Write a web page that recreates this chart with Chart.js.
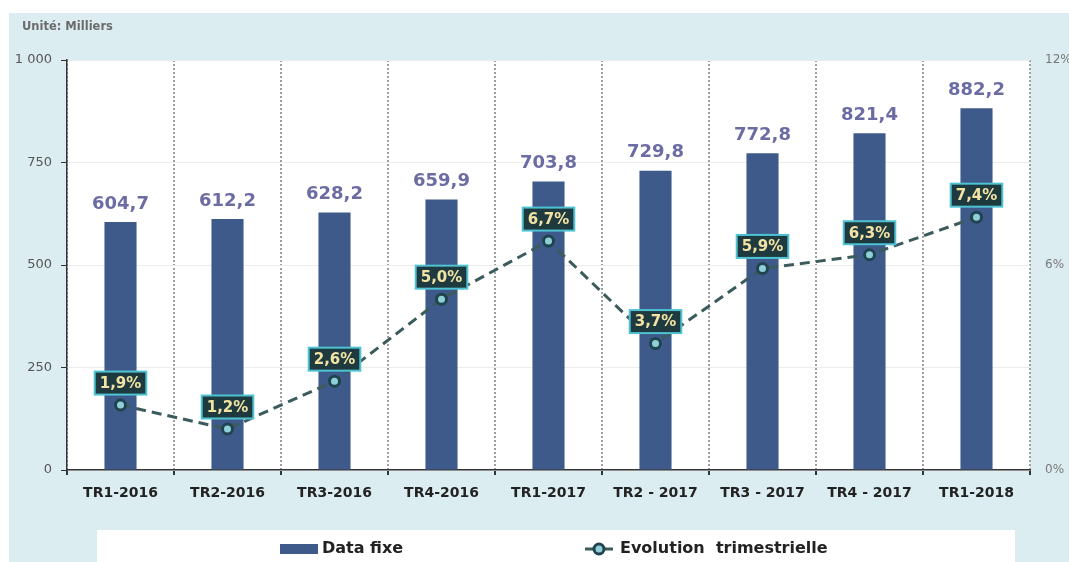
<!DOCTYPE html>
<html>
<head>
<meta charset="utf-8">
<script src="https://cdn.jsdelivr.net/npm/chart.js@4.4.1/dist/chart.umd.min.js"></script>
<style>
  html, body { margin: 0; padding: 0; background: #fff; }
  #wrap { position: relative; width: 1069px; height: 562px; }
</style>
</head>
<body>
<div id="wrap"><canvas id="chart" width="1069" height="562"></canvas></div>
<script>
const categories = ['TR1-2016', 'TR2-2016', 'TR3-2016', 'TR4-2016', 'TR1-2017', 'TR2 - 2017', 'TR3 - 2017', 'TR4 - 2017', 'TR1-2018'];
const dataFixe = [604.7, 612.2, 628.2, 659.9, 703.8, 729.8, 772.8, 821.4, 882.2];
const evolution = [1.9, 1.2, 2.6, 5.0, 6.7, 3.7, 5.9, 6.3, 7.4];
const leftTicks = [0, 250, 500, 750, 1000];
const rightTicks = [0, 6, 12];
const unitLabel = 'Unité: Milliers';
const seriesNames = ['Data fixe', 'Evolution  trimestrielle'];

const BAR_COLOR = '#3e5a8a';
const LINE_COLOR = '#3b5b5c';
const FONT = '"DejaVu Sans", Verdana, sans-serif';

function fr(v) {
  return v.toFixed(1).replace('.', ',');
}

/* =========================
   BACKGROUND + LABELS
========================= */

const decorPlugin = {
  id: 'decor',
  beforeDraw(chart) {
    const ctx = chart.ctx;
    const a = chart.chartArea;
    ctx.save();
    ctx.fillStyle = '#ffffff';
    ctx.fillRect(0, 0, chart.width, chart.height);
    ctx.fillStyle = '#dcedf2';
    ctx.fillRect(9, 13, chart.width - 9, chart.height - 13);
    ctx.fillStyle = '#ffffff';
    ctx.fillRect(a.left, a.top, a.right - a.left, a.bottom - a.top);

    // unit caption
    ctx.fillStyle = '#6b6b6b';
    ctx.font = 'bold 11.5px ' + FONT;
    ctx.textBaseline = 'middle';
    ctx.textAlign = 'left';
    ctx.fillText(unitLabel, 22, 27);

    // legend box
    ctx.fillStyle = '#ffffff';
    ctx.fillRect(97, 530, 918, 40);
    ctx.restore();
  },
  afterDatasetsDraw(chart) {
    const ctx = chart.ctx;
    ctx.save();
    ctx.textAlign = 'center';
    ctx.textBaseline = 'middle';

    // bar values
    const bars = chart.getDatasetMeta(0).data;
    ctx.font = 'bold 18px ' + FONT;
    ctx.fillStyle = '#6c6ca4';
    bars.forEach((el, i) => {
      ctx.fillText(fr(dataFixe[i]), el.x, el.y - 18);
    });

    // percentage boxes
    const pts = chart.getDatasetMeta(1).data;
    ctx.font = 'bold 15px ' + FONT;
    pts.forEach((el, i) => {
      const txt = fr(evolution[i]) + '%';
      const w = ctx.measureText(txt).width + 10;
      const h = 23;
      const cx = el.x;
      const cy = el.y - 22;
      ctx.fillStyle = '#1e3a3e';
      ctx.fillRect(cx - w / 2, cy - h / 2, w, h);
      ctx.strokeStyle = '#4ec3d3';
      ctx.lineWidth = 2;
      ctx.strokeRect(cx - w / 2, cy - h / 2, w, h);
      ctx.fillStyle = '#f2e3a5';
      ctx.fillText(txt, cx, cy + 1);
    });
    ctx.restore();
  },
  afterDraw(chart) {
    // legend
    const ctx = chart.ctx;
    ctx.save();
    ctx.textBaseline = 'middle';
    ctx.textAlign = 'left';
    ctx.font = 'bold 16px ' + FONT;

    ctx.fillStyle = BAR_COLOR;
    ctx.fillRect(280, 544, 38, 10);
    ctx.fillStyle = '#222';
    ctx.fillText(seriesNames[0], 322, 549);

    ctx.strokeStyle = LINE_COLOR;
    ctx.lineWidth = 3;
    ctx.beginPath();
    ctx.moveTo(585, 549);
    ctx.lineTo(613, 549);
    ctx.stroke();
    ctx.beginPath();
    ctx.arc(599, 549, 5, 0, Math.PI * 2);
    ctx.fillStyle = '#8fd0d8';
    ctx.fill();
    ctx.lineWidth = 3;
    ctx.strokeStyle = '#1f4450';
    ctx.stroke();
    ctx.fillStyle = '#222';
    ctx.fillText(seriesNames[1], 620, 549);
    ctx.restore();
  }
};

/* =========================
   MAIN CHART
========================= */

const ctx = document.getElementById('chart').getContext('2d');

new Chart(ctx, {
  type: 'bar',
  data: {
    labels: categories,
    datasets: [
      {
        label: seriesNames[0],
        data: dataFixe,
        backgroundColor: BAR_COLOR,
        categoryPercentage: 1,
        barPercentage: 0.3,
        yAxisID: 'y',
        order: 2
      },
      {
        type: 'line',
        label: seriesNames[1],
        data: evolution,
        yAxisID: 'y1',
        borderColor: LINE_COLOR,
        borderWidth: 3,
        borderDash: [10, 6],
        pointRadius: 5,
        pointBackgroundColor: '#8fd0d8',
        pointBorderColor: '#1f4450',
        pointBorderWidth: 3,
        tension: 0,
        fill: false,
        order: 1
      }
    ]
  },
  options: {
    responsive: false,
    animation: false,
    layout: {
      padding: { top: 60, bottom: 50, left: 0, right: 0 }
    },
    scales: {
      x: {
        grid: {
          offset: true,
          color: '#a0a0a0',
          lineWidth: 2,
          drawTicks: true,
          tickLength: 5,
          tickColor: '#333',
          tickBorderDash: []
        },
        border: { display: true, color: '#333', width: 1.5, dash: [2, 2] },
        ticks: {
          padding: 10,
          color: '#222',
          font: { family: FONT, size: 14, weight: 'bold' }
        },
        afterFit(scale) { scale.height = 42; }
      },
      y: {
        position: 'left',
        min: 0,
        max: 1000,
        afterBuildTicks(scale) {
          scale.ticks = leftTicks.map(v => ({ value: v }));
        },
        grid: {
          color: '#ececec',
          lineWidth: 1,
          tickLength: 6,
          tickColor: '#333'
        },
        border: { display: true, color: '#333', width: 1.5 },
        ticks: {
          padding: 9,
          color: '#555',
          font: { family: FONT, size: 13 },
          callback: v => v >= 1000 ? '1 000' : String(v)
        },
        afterFit(scale) { scale.width = 67; }
      },
      y1: {
        position: 'right',
        min: 0,
        max: 12,
        afterBuildTicks(scale) {
          scale.ticks = rightTicks.map(v => ({ value: v }));
        },
        grid: { drawOnChartArea: false, drawTicks: false },
        border: { display: false },
        ticks: {
          padding: 15,
          color: '#777',
          font: { family: FONT, size: 12 },
          callback: v => v + '%'
        },
        afterFit(scale) { scale.width = 39; }
      }
    },
    plugins: {
      legend: { display: false },
      tooltip: { enabled: false }
    }
  },
  plugins: [decorPlugin]
});
</script>
</body>
</html>
